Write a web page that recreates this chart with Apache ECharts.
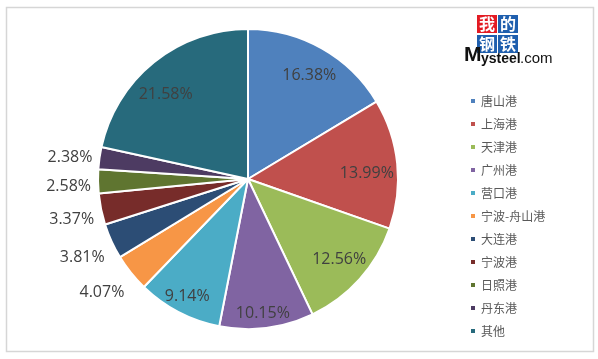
<!DOCTYPE html>
<html>
<head>
<meta charset="utf-8">
<script src="https://cdn.jsdelivr.net/npm/echarts@6/dist/echarts.min.js"></script>
<style>
html,body{margin:0;padding:0;background:#fff;}
#chart{width:598px;height:359px;}
</style>
</head>
<body>
<div id="chart"></div>
<script>
// ---- data ----
const categories = ['唐山港','上海港','天津港','广州港','营口港','宁波-舟山港','大连港','宁波港','日照港','丹东港','其他'];
const shares = [16.38, 13.99, 12.56, 10.15, 9.14, 4.07, 3.81, 3.37, 2.58, 2.38, 21.58];
const colors = ['#4F81BD','#C0504D','#9BBB59','#8064A2','#4BACC6','#F79646','#2C4D75','#772C2A','#5F7530','#4D3B62','#276A7C'];
// which labels sit outside the pie
const outsideLabel = [false,false,false,false,false,true,true,true,true,true,false];

// ---- label layout tweaks (styling, not data) ----
const insideOffsets = [[3,0],[1,7],[3,1],[0,17],[-6,12],[0,0],[0,0],[0,0],[0,0],[0,0],[-8,8]];
const outsideOffsets = [[0,0],[0,0],[0,0],[0,0],[0,0],[0,18],[0,15],[0,10],[0,5],[0,0],[0,0]];

const labelFont = {fontFamily:'Open Sans', fontSize:16, color:'#404040'};
const fmt = p => p.value.toFixed(2) + '%';

const mainData = categories.map((n,i)=>({
  name:n, value:shares[i],
  itemStyle:{color:colors[i]},
  label: outsideLabel[i] ? {show:true, position:'outside', offset:outsideOffsets[i]} : {show:false}
}));
const labelData = categories.map((n,i)=>({
  name:n, value:shares[i],
  label: outsideLabel[i] ? {show:false} : {show:true, position:'inside', offset:insideOffsets[i]}
}));

const chart = echarts.init(document.getElementById('chart'), null, {renderer:'canvas'});
chart.setOption({
  backgroundColor:'#ffffff',
  animation:false,
  color: colors,
  legend:{
    orient:'vertical', left:469, top:95,
    data: categories,
    icon:'rect', itemWidth:6, itemHeight:6, itemGap:11,
    padding:0,
    textStyle:{fontFamily:'Noto Sans CJK SC', fontSize:12, color:'#595959', lineHeight:12},
    selectedMode:false
  },
  graphic:[
    {type:'rect', shape:{x:6.5,y:7.5,width:587,height:344}, style:{fill:'none', stroke:'#d6d6d6', lineWidth:1.5}, silent:true, z:-1},
    {type:'rect', shape:{x:477,y:15,width:20,height:18}, style:{fill:'#E31B23'}},
    {type:'rect', shape:{x:498,y:15,width:20,height:18}, style:{fill:'#1F5FAE'}},
    {type:'rect', shape:{x:477,y:35,width:20,height:18}, style:{fill:'#1F5FAE'}},
    {type:'rect', shape:{x:498,y:35,width:20,height:18}, style:{fill:'#1F5FAE'}},
    {type:'text', x:487, y:24, style:{text:'我', fill:'#fff', font:'bold 16px "Noto Sans CJK SC"', align:'center', verticalAlign:'middle'}},
    {type:'text', x:508, y:24, style:{text:'的', fill:'#fff', font:'bold 16px "Noto Sans CJK SC"', align:'center', verticalAlign:'middle'}},
    {type:'text', x:487, y:44, style:{text:'钢', fill:'#fff', font:'bold 16px "Noto Sans CJK SC"', align:'center', verticalAlign:'middle'}},
    {type:'text', x:508, y:44, style:{text:'铁', fill:'#fff', font:'bold 16px "Noto Sans CJK SC"', align:'center', verticalAlign:'middle'}},
    {type:'text', x:464, y:66, style:{text:'M', fill:'#111', font:'bold 21px "Liberation Sans"', verticalAlign:'bottom'}},
    {type:'text', x:481, y:66, style:{text:'ysteel', fill:'#111', font:'bold 14px "Liberation Sans"', verticalAlign:'bottom'}},
    {type:'text', x:520, y:66, style:{text:'.com', fill:'#111', font:'15px "Liberation Sans"', verticalAlign:'bottom'}}
  ],
  series:[
    {
      type:'pie', name:'main',
      center:[248,179], radius:150,
      startAngle:90, clockwise:true,
      avoidLabelOverlap:false,
      itemStyle:{borderColor:'#ffffff', borderWidth:2},
      label:Object.assign({formatter:fmt}, labelFont),
      labelLine:{show:false, length:2, length2:0},
      emphasis:{disabled:true},
      data: mainData
    },
    {
      type:'pie', name:'labels',
      center:[248,179], radius:[81,150],
      startAngle:90, clockwise:true,
      silent:true,
      avoidLabelOverlap:false,
      itemStyle:{color:'rgba(0,0,0,0)', borderWidth:0},
      label:Object.assign({formatter:fmt}, labelFont),
      labelLine:{show:false},
      emphasis:{disabled:true},
      data: labelData
    }
  ]
});
</script>
</body>
</html>
